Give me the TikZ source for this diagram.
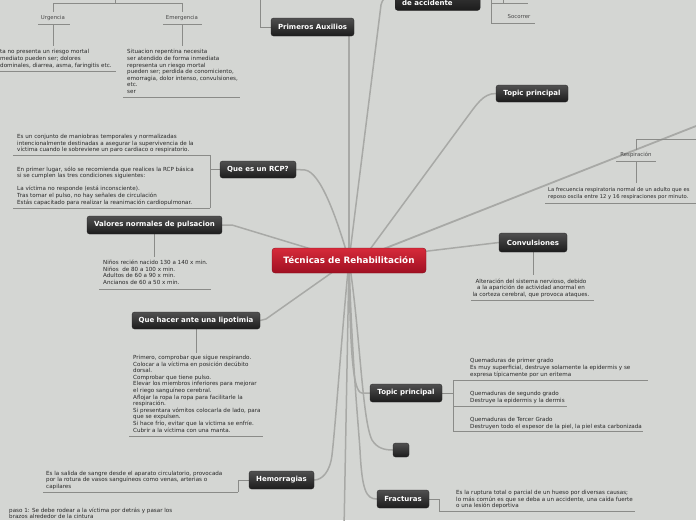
\documentclass[tikz,border=0pt]{standalone}
\usepackage{fontspec}
\setmainfont{DejaVu Sans}
\pgfdeclarelayer{back}
\pgfsetlayers{back,main}
\definecolor{bgc}{RGB}{212,214,211}
\definecolor{connc}{RGB}{168,169,166}
\definecolor{thinc}{RGB}{138,139,136}
\definecolor{txtc}{RGB}{40,40,40}
\definecolor{dtop}{RGB}{80,80,80}
\definecolor{dbot}{RGB}{28,28,28}
\definecolor{rtop}{RGB}{214,42,58}
\definecolor{rbot}{RGB}{160,16,34}
\tikzset{
  topicbox/.style={rounded corners=2.5pt, top color=dtop, bottom color=dbot, draw=black!85, line width=0.3pt, text=white, font=\bfseries\fontsize{7}{8.4}\selectfont, inner sep=0pt, minimum height=18pt},
  centralbox/.style={rounded corners=3pt, top color=rtop, bottom color=rbot, draw=rbot!80!black, line width=0.3pt, text=white, font=\bfseries\fontsize{8.8}{10}\selectfont, inner sep=0pt, minimum width=154pt, minimum height=25pt},
  conn/.style={draw=connc, line width=1.5pt, line cap=round},
  thinl/.style={draw=thinc, line width=0.7pt},
  body/.style={anchor=north west, inner sep=0pt, align=left, text=txtc, font=\fontsize{5.6}{6.6}\selectfont},
  lbl/.style={inner sep=0pt, text=txtc!85, font=\fontsize{5.4}{6}\selectfont},
}
\begin{document}
\begin{tikzpicture}[x=1pt,y=-1pt]
\begin{pgfonlayer}{back}
\fill[bgc] (0,0) rectangle (696,520);
\end{pgfonlayer}
\useasboundingbox (0,0) rectangle (696,520);

% main nodes
\node[centralbox] (c) at (349,260.5) {Técnicas de Rehabilitación};
\node[topicbox, minimum width=83pt] (pa) at (312.5,27) {Primeros Auxilios};
\node[topicbox, minimum width=85pt, minimum height=32pt, anchor=south west] (acc) at (395,10.5) {};
\node[anchor=west, inner sep=0pt, text=white, font=\bfseries\fontsize{7}{8.4}\selectfont] (acct) at (402,2.7) {de accidente};
\node[topicbox, minimum width=72pt, minimum height=17pt] (tpa) at (532,93.5) {Topic principal};
\node[topicbox, minimum width=76pt, minimum height=17pt] (rcp) at (258,169.5) {Que es un RCP?};
\node[topicbox, minimum width=135pt] (val) at (154.5,225) {Valores normales de pulsacion};
\node[topicbox, minimum width=68pt, minimum height=19pt] (conv) at (533,242.5) {Convulsiones};
\node[topicbox, minimum width=128pt, minimum height=17pt] (lip) at (196,320.5) {Que hacer ante una lipotimia};
\node[topicbox, minimum width=72pt] (tpb) at (406,393) {Topic principal};
\node[topicbox, minimum width=16pt, minimum height=14pt] (empty) at (401,450) {};
\node[topicbox, minimum width=65pt] (hem) at (281.5,480) {Hemorragias};
\node[topicbox, minimum width=52pt] (fra) at (403,499) {Fracturas};

% labels
\node[lbl] (urg) at (53,18) {Urgencia};
\node[lbl] (emer) at (182,18) {Emergencia};
\node[lbl] (soc) at (519,17) {Socorrer};
\node[lbl] (resp) at (636,155) {Respiración};

% body texts
\node[body] (urgt) at (0,49.4) {ta no presenta un riesgo mortal\\mediato pueden ser; dolores\\dominales, diarrea, asma, faringitis etc.};
\node[body] (emert) at (127,49.4) {Situacion repentina necesita\\ser atendido de forma inmediata\\representa un riesgo mortal\\pueden ser; perdida de conomiciento,\\emorragia, dolor intenso, convulsiones,\\etc.\\ser};
\node[body, font=\fontsize{5.25}{6.8}\selectfont] (respt) at (548,187.1) {La frecuencia respiratoria normal de un adulto que es\\reposo oscila entre 12 y 16 respiraciones por minuto.};
\node[body] (rcpa) at (17,134.1) {Es un conjunto de maniobras temporales y normalizadas\\intencionalmente destinadas a asegurar la supervivencia de la\\víctima cuando le sobreviene un paro cardiaco o respiratorio.};
\node[body] (rcpb) at (17,166.4) {En primer lugar, sólo se recomienda que realices la RCP básica\\si se cumplen las tres condiciones siguientes:\\[6.6pt]La víctima no responde (está inconsciente).\\Tras tomar el pulso, no hay señales de circulación\\Estás capacitado para realizar la reanimación cardiopulmonar.};
\node[body] (valt) at (103,260.1) {Niños recién nacido 130 a 140 x min.\\Niños\ \ de 80 a 100 x min.\\Adultos de 60 a 90 x min.\\Ancianos de 60 a 50 x min.};
\node[body, anchor=north, align=center] (convt) at (531,278.4) {Alteración del sistema nervioso, debido\\a la aparición de actividad anormal en\\la corteza cerebral, que provoca ataques.};
\node[body] (lipt) at (133,355.1) {Primero, comprobar que sigue respirando.\\Colocar a la víctima en posición decúbito\\dorsal.\\Comprobar que tiene pulso.\\Elevar los miembros inferiores para mejorar\\el riego sanguíneo cerebral.\\Aflojar la ropa la ropa para facilitarle la\\respiración.\\Si presentara vómitos colocarla de lado, para\\que se expulsen.\\Si hace frío, evitar que la víctima se enfríe.\\Cubrir a la víctima con una manta.};
\node[body] (qa) at (470,358.4) {Quemaduras de primer grado\\Es muy superficial, destruye solamente la epidermis y se\\expresa típicamente por un eritema};
\node[body] (qb) at (470,391.1) {Quemaduras de segundo grado\\Destruye la epidermis y la dermis};
\node[body] (qc) at (470,417.4) {Quemaduras de Tercer Grado\\Destruyen todo el espesor de la piel, la piel esta carbonizada};
\node[body] (hemt) at (46,470.7) {Es la salida de sangre desde el aparato circulatorio, provocada\\por la rotura de vasos sanguíneos como venas, arterias o\\capilares};
\node[body] (paso) at (9,507.4) {paso 1: Se debe rodear a la víctima por detrás y pasar los\\brazos alrededor de la cintura};
\node[body] (frat) at (456,490.1) {Es la ruptura total o parcial de un hueso por diversas causas;\\lo más común es que se deba a un accidente, una caída fuerte\\o una lesión deportiva};

\coordinate (respparent) at (720,116.6);
\coordinate (down) at (344,530);
\coordinate (topleft) at (115,-5);
\coordinate (paup) at (260,-5);

\begin{pgfonlayer}{back}
% main connectors
\draw[conn] (c.center) -- (381,5) .. controls (383,-3) and (388,-5.5) .. (acc.west);
\draw[conn] (c.center) -- (c.center |- pa.south);
\draw[conn] (c.center) -- (368,252) -- (465,120) .. controls (477,104) and (483,93.5) .. (tpa.west);
\draw[conn, line width=1.8pt] (c.center) -- (362,257.4) -- (respparent);
\draw[conn] (c.center) -- (conv.west);
\draw[conn] (rcp.east) -- (305,170) .. controls (320,172) and (336,215) .. (c.center);
\draw[conn] (val.east) -- (232,225) -- (c.center);
\draw[conn] (lip.east) -- (266,319) -- (c.center);
\draw[conn] (c.center) .. controls (350,340) and (352,393) .. (362,393) -- (tpb.west);
\draw[conn] (c.center) .. controls (360,330) and (362,420) .. (372,440) .. controls (377,448) and (384,450) .. (empty.west);
\draw[conn] (c.center) .. controls (352,360) and (358,420) .. (360,450) .. controls (362,490) and (366,499) .. (fra.west);
\draw[conn] (c.center) -- (down);
\draw[conn] (c.center) .. controls (342,330) and (336,420) .. (332,455) .. controls (330,472) and (322,480) .. (hem.east);

% thin lines, top-left tree
\draw[thinl] (topleft) -- (115,3);
\draw[thinl] (53,3) -- (182,3);
\draw[thinl] (53,3) -- (urg.north |- 0,12);
\draw[thinl] (182,3) -- (emer.north |- 0,12);
\draw[thinl] (38,24) -- (70,24);
\draw[thinl] (163,24) -- (202,24);
\draw[thinl] (53,24) -- (53,46);
\draw[thinl] (182,24) -- (182,46);
\draw[thinl] (0,71) -- (116,71);
\draw[thinl] (123,97) -- (240,97);
\draw[thinl] (pa.west) -- (260,27) -- (paup);
% de accidente
\draw[thinl] (491,-5) -- (491,23);
\draw[thinl] (491,3.7) -- (528,3.7);
\draw[thinl] (503,-5) -- (503,3.7);
\draw[thinl] (491,23) -- (535,23);
% respiracion
\draw[thinl] (636,139) -- (700,139);
\draw[thinl] (636,139) -- (636,150);
\draw[thinl] (616,161) -- (656,161);
\draw[thinl] (636,161) -- (636,183);
\draw[thinl] (545,203) -- (700,203);
% rcp
\draw[thinl] (rcp.west) -- (210,169.5);
\draw[thinl] (210,155) -- (210,208);
\draw[thinl] (13,155) -- (210,155);
\draw[thinl] (13,208) -- (210,208);
% valores
\draw[thinl] (val.south) -- (154.5,257);
\draw[thinl] (99,289) -- (211,289);
% convulsiones
\draw[thinl] (conv.south) -- (533,275);
\draw[thinl] (471,300) -- (594,300);
% lipotimia
\draw[thinl] (lip.south) -- (196,353);
\draw[thinl] (129,436) -- (263,436);
% topic principal lower
\draw[thinl] (tpb.east) -- (453,393);
\draw[thinl] (453,380) -- (453,431);
\draw[thinl] (453,380) -- (648,380);
\draw[thinl] (453,406.7) -- (567,406.7);
\draw[thinl] (453,431) -- (643,431);
% hemorragias
\draw[thinl] (hem.west) -- (238,480) -- (238,492);
\draw[thinl] (43,492) -- (238,492);
% fracturas
\draw[thinl] (fra.east) -- (439,499) -- (439,511);
\draw[thinl] (439,511) -- (635,511);
\end{pgfonlayer}
\end{tikzpicture}
\end{document}
